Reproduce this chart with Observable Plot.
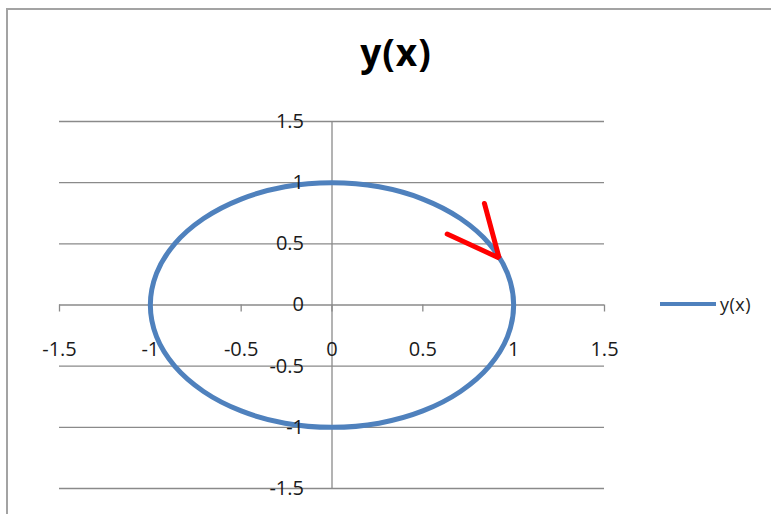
<!DOCTYPE html>
<html>
<head>
<meta charset="utf-8">
<script src="https://cdn.jsdelivr.net/npm/d3@7"></script>
<script src="https://cdn.jsdelivr.net/npm/@observablehq/plot@0.6"></script>
<style>
  html, body { margin: 0; padding: 0; background: #fff; }
  body { width: 771px; height: 514px; overflow: hidden; position: relative; font-family: "Open Sans", sans-serif; }
  #border { position: absolute; left: 6px; top: 8px; width: 900px; height: 700px; border-left: 2px solid #a3a3a3; border-top: 2px solid #a3a3a3; box-sizing: border-box; }
  #chart { position: absolute; left: 0; top: 0; }
  #title { position: absolute; left: 396px; top: 26px; transform: translateX(-50%); font-family: "Open Sans", sans-serif; font-weight: bold; font-size: 37px; letter-spacing: 1px; color: #000; white-space: nowrap; }
  #legend { position: absolute; left: 660px; top: 292px; height: 24px; display: flex; align-items: center; white-space: nowrap; }
  #legend .swatch { width: 56px; height: 0; border-top: 4px solid #4f81bd; margin-right: 4px; }
  #legend .label { font-family: "Open Sans", sans-serif; font-size: 18px; letter-spacing: 0.5px; color: #222; }
</style>
</head>
<body>
<div id="border"></div>
<div id="chart"></div>
<div id="title"></div>
<div id="legend"><span class="swatch"></span><span class="label"></span></div>
<script>
const chartTitle = "y(x)";
const seriesName = "y(x)";

const xTicks = [-1.5, -1, -0.5, 0, 0.5, 1, 1.5];
const yTicks = [-1.5, -1, -0.5, 0, 0.5, 1, 1.5];

// points of the plotted curve
const circleX = [1, 0.966, 0.866, 0.707, 0.5, 0.259, 0, -0.259, -0.5, -0.707, -0.866, -0.966,
                 -1, -0.966, -0.866, -0.707, -0.5, -0.259, 0, 0.259, 0.5, 0.707, 0.866, 0.966];
const circleY = [0, 0.259, 0.5, 0.707, 0.866, 0.966, 1, 0.966, 0.866, 0.707, 0.5, 0.259,
                 0, -0.259, -0.5, -0.707, -0.866, -0.966, -1, -0.966, -0.866, -0.707, -0.5, -0.259];

// hand-drawn red arrow annotation (left arm end, tip, top arm end)
const arrowX = [0.634, 0.92, 0.839];
const arrowY = [0.58, 0.385, 0.83];

const circle = circleX.map((x, i) => ({x, y: circleY[i]}));
const arrow = arrowX.map((x, i) => ({x, y: arrowY[i]}));

document.getElementById("title").textContent = chartTitle;
document.querySelector("#legend .label").textContent = seriesName;

const gridColor = "#8a8a8a";
const fmt = d => String(d);

const plot = Plot.plot({
  width: 771,
  height: 514,
  marginLeft: 59,
  marginRight: 167,
  marginTop: 121,
  marginBottom: 26,
  x: {domain: [-1.5, 1.5], axis: null},
  y: {domain: [-1.5, 1.5], axis: null},
  style: {background: "transparent", overflow: "visible"},
  marks: [
    Plot.ruleY(yTicks, {stroke: gridColor, strokeWidth: 1.3, strokeOpacity: 1}),
    Plot.ruleX([0], {stroke: gridColor, strokeWidth: 1.3, strokeOpacity: 1}),
    Plot.ruleX(xTicks, {x: d => d, y1: 0, y2: 0, insetBottom: -7, stroke: gridColor, strokeWidth: 1.3, strokeOpacity: 1}),
    Plot.line(circle, {x: "x", y: "y", curve: "catmull-rom-closed", stroke: "#4f81bd", strokeWidth: 5, strokeLinejoin: "round"}),
    Plot.line(arrow, {x: "x", y: "y", stroke: "#ff0000", strokeWidth: 5, strokeLinecap: "round", strokeLinejoin: "miter"}),
    Plot.text(xTicks, {x: d => d, y: 0, dy: 45, text: fmt, fontSize: 20, fontFamily: "Open Sans", fill: "#1a1a1a"}),
    Plot.text(yTicks, {x: 0, y: d => d, dx: -28, textAnchor: "end", text: fmt, fontSize: 20, fontFamily: "Open Sans", fill: "#1a1a1a"})
  ]
});
document.getElementById("chart").appendChild(plot);
</script>
</body>
</html>
